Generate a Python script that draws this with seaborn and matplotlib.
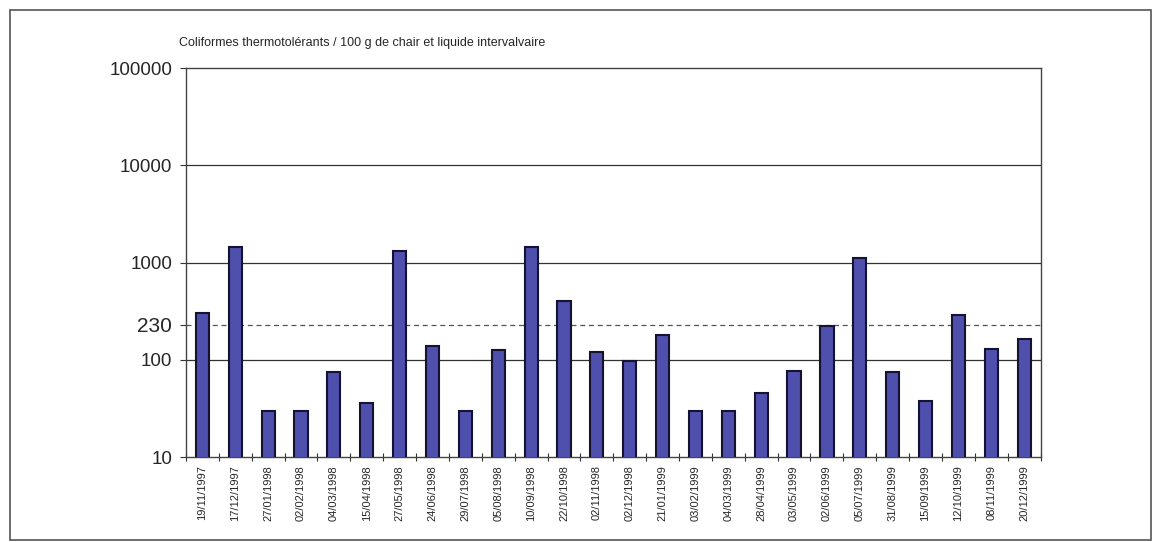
import numpy as np
import pandas as pd
import matplotlib
matplotlib.use("Agg")
import matplotlib.pyplot as plt
import seaborn as sns

dates = ["19/11/1997", "17/12/1997", "27/01/1998", "02/02/1998", "04/03/1998",
         "15/04/1998", "27/05/1998", "24/06/1998", "29/07/1998", "05/08/1998",
         "10/09/1998", "22/10/1998", "02/11/1998", "02/12/1998", "21/01/1999",
         "03/02/1999", "04/03/1999", "28/04/1999", "03/05/1999", "02/06/1999",
         "05/07/1999", "31/08/1999", "15/09/1999", "12/10/1999", "08/11/1999",
         "20/12/1999"]
coliformes = [300, 1450, 30, 30, 75, 36, 1300, 140, 30, 125,
              1450, 400, 120, 97, 180, 30, 30, 45, 76, 220,
              1100, 75, 38, 290, 128, 165]
seuil = 230
yticks = [10, 100, 230, 1000, 10000, 100000]

df = pd.DataFrame({"date": dates, "valeur": coliformes})

sns.set_style("white")
plt.rcParams["font.family"] = ["Liberation Sans", "DejaVu Sans"]

fig = plt.figure(figsize=(11.58, 5.42), dpi=100)
ax = fig.add_axes([0.1606, 0.1568, 0.738, 0.8745 - 0.1568])
ax.set_yscale("log")

sns.barplot(data=df, x="date", y="valeur", ax=ax, color="#4f4fae",
            saturation=1, width=0.4, edgecolor="#141430", linewidth=1.5,
            zorder=3)

ax.set_ylim(10, 100000)
ax.set_xlim(-0.5, len(dates) - 0.5)

# lignes horizontales
for v in [100, 1000, 10000]:
    ax.axhline(v, color="#333333", lw=0.9, zorder=1)
ax.axhline(seuil, color="#555555", lw=0.9, ls=(0, (4, 3)), zorder=1)

ax.set_yticks(yticks)
ax.set_yticklabels([str(t) for t in yticks], fontsize=13.5)
ax.yaxis.set_minor_locator(matplotlib.ticker.NullLocator())
ax.tick_params(axis="y", length=4, width=0.8, color="#333333", left=True, pad=6)
ax.get_yticklabels()[2].set_fontsize(15)

ax.set_xticks(range(len(dates)))
ax.set_xticklabels(dates, rotation=90, fontsize=8)
ax.set_xticks(np.arange(-0.5, len(dates)), minor=True)
ax.tick_params(axis="x", which="major", length=0, pad=6)
ax.tick_params(axis="x", which="minor", length=6, width=0.8, direction="inout",
               color="#333333", bottom=True)

ax.set_xlabel("")
ax.set_ylabel("")
for s in ax.spines.values():
    s.set_color("#444444")
    s.set_linewidth(1.0)
    s.set_visible(True)

fig.text(0.155, 0.92, "Coliformes thermotolérants / 100 g de chair et liquide intervalvaire",
         fontsize=9, ha="left", va="center")

# cadre autour du graphique
cadre = plt.Rectangle((0.009, 0.004), 0.985, 0.978, transform=fig.transFigure,
                      fill=False, edgecolor="#555555", lw=1.2)
fig.patches.append(cadre)

fig.savefig("out.png", dpi=100, facecolor="white")
